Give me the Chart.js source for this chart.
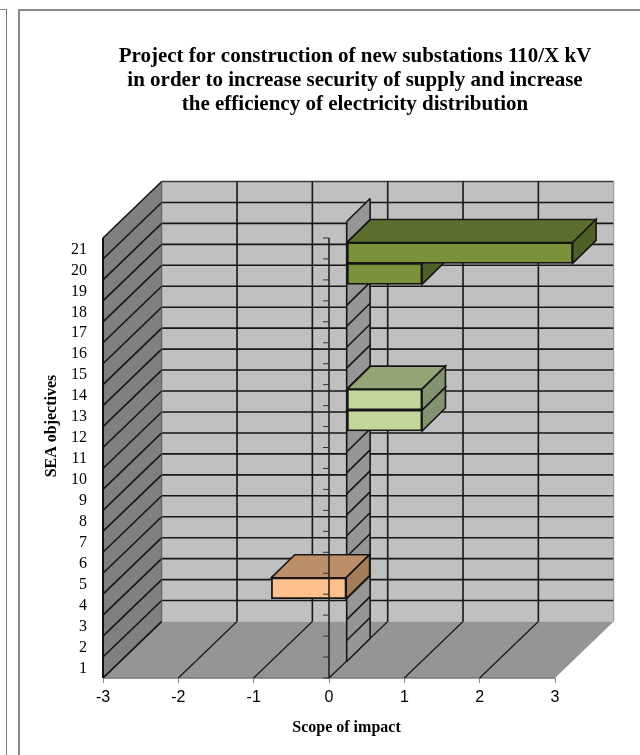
<!DOCTYPE html>
<html>
<head>
<meta charset="utf-8">
<script src="https://cdn.jsdelivr.net/npm/chart.js@4"></script>
<style>
  html, body { margin: 0; padding: 0; background: #fff; }
  canvas { display: block; }
</style>
</head>
<body>
<canvas id="chart" width="640" height="755"></canvas>
<script>
const objectives = ['1','2','3','4','5','6','7','8','9','10','11','12','13','14','15','16','17','18','19','20','21'];
const impact = [null,null,null,-1,null,null,null,null,null,null,null,1,1,null,null,null,null,null,1,3,null];
const impactTicks = [-3,-2,-1,0,1,2,3];
const titleLines = [
  'Project for construction of new substations 110/X kV',
  'in order to increase security of supply and increase',
  'the efficiency of electricity distribution'
];
const xTitle = 'Scope of impact';
const yTitle = 'SEA objectives';

// front, top, side colours of a bar, picked by sign and by which objective group
const tones = {
  negative: ['#FDC08C', '#BC8F68', '#A17D59'],
  light: ['#C3D69B', '#93A577', '#839270'],
  strong: ['#7A923A', '#5C6E2D', '#4F6026']
};
function toneOf(i) {
  if (impact[i] < 0) return tones.negative;
  return i > 15 ? tones.strong : tones.light;
}

// 3d look: how far back the wall sits, and the band in which the bars stand
const back = { x: 58.7, y: -56.5 };
const barPlane = { x: 17.7, y: -16.5 };
const barDepth = { x: 23.4, y: -23 };
const lineColor = '#161616';

function poly(ctx, pts, fill, stroke, width) {
  ctx.beginPath();
  pts.forEach((p, i) => i ? ctx.lineTo(p[0], p[1]) : ctx.moveTo(p[0], p[1]));
  ctx.closePath();
  if (fill) { ctx.fillStyle = fill; ctx.fill(); }
  if (stroke) { ctx.strokeStyle = stroke; ctx.lineWidth = width || 1.6; ctx.stroke(); }
}
function line(ctx, x1, y1, x2, y2, color, width) {
  ctx.beginPath();
  ctx.moveTo(x1, y1);
  ctx.lineTo(x2, y2);
  ctx.strokeStyle = color || lineColor;
  ctx.lineWidth = width || 1.6;
  ctx.stroke();
}
// pixel of the boundary under category k, 0 is the floor and 21 the top
function rowEdge(y, k) {
  const band = y.getPixelForTick(0) - y.getPixelForTick(1);
  return y.getPixelForTick(0) + band / 2 - band * k;
}

const scene = {
  id: 'scene',
  beforeDraw(chart) {
    const ctx = chart.ctx;
    ctx.save();
    ctx.fillStyle = '#fff';
    ctx.fillRect(0, 0, chart.width, chart.height);
    line(ctx, 19, 10, 640, 10, '#8a8a8a', 2);
    line(ctx, 19, 9, 19, 755, '#8a8a8a', 2);
    line(ctx, 0, 9.5, 7, 9.5, '#8a8a8a', 1);
    line(ctx, 6.5, 9, 6.5, 755, '#777', 1);
    ctx.restore();
  },
  beforeDatasetsDraw(chart) {
    const ctx = chart.ctx;
    const { left, right, top, bottom } = chart.chartArea;
    const x = chart.scales.x, y = chart.scales.y;
    const rows = objectives.length;
    ctx.save();

    // back wall, left wall, floor
    poly(ctx, [[left + back.x, top + back.y], [right + back.x, top + back.y], [right + back.x, bottom + back.y], [left + back.x, bottom + back.y]], '#C0C0C0');
    poly(ctx, [[left, top], [left + back.x, top + back.y], [left + back.x, bottom + back.y], [left, bottom]], '#808080');
    poly(ctx, [[left, bottom], [left + back.x, bottom + back.y], [right + back.x, bottom + back.y], [right, bottom]], '#959595');

    for (let k = 1; k <= rows; k++) {
      const p = rowEdge(y, k);
      line(ctx, left + back.x, p + back.y, right + back.x, p + back.y, k === rows ? '#3a3a3a' : lineColor);
      line(ctx, left, p, left + back.x, p + back.y);
    }
    line(ctx, left, bottom, left + back.x, bottom + back.y);
    line(ctx, right + back.x, top + back.y, right + back.x, bottom + back.y, '#8c8c8c', 1);
    line(ctx, left, bottom, right, bottom, '#777', 1.5);

    impactTicks.forEach(v => {
      const p = x.getPixelForValue(v);
      if (v > -3 && v < 3) line(ctx, p + back.x, top + back.y, p + back.x, bottom + back.y);
      if (v < 3) line(ctx, p, bottom, p + back.x, bottom + back.y, lineColor, 1.2);
    });
    line(ctx, left + back.x, top + back.y, left + back.x, bottom + back.y, '#555', 1);
    line(ctx, left, top, left, bottom, '#111', 2);

    // the wall standing on the zero line
    const z = x.getPixelForValue(0) + barPlane.x;
    const zb = z + barDepth.x;
    poly(ctx, [[z, top + barPlane.y], [zb, top + barPlane.y + barDepth.y], [zb, bottom + barPlane.y + barDepth.y], [z, bottom + barPlane.y]], '#969696');
    for (let k = 0; k <= rows; k++) {
      const p = rowEdge(y, k) + barPlane.y;
      line(ctx, z, p, zb, p + barDepth.y);
    }
    line(ctx, z, top + barPlane.y, z, bottom + barPlane.y);
    line(ctx, zb, top + barPlane.y + barDepth.y, zb, bottom + barPlane.y + barDepth.y);

    // the bars stand in their own plane, chart.js paints the fronts after this
    ctx.translate(barPlane.x, barPlane.y);
    const bars = chart.getDatasetMeta(0).data;
    impact.forEach((v, i) => {
      if (v === null) return;
      const b = bars[i];
      const x0 = Math.min(b.x, b.base), x1 = Math.max(b.x, b.base);
      const y0 = b.y - b.height / 2, y1 = b.y + b.height / 2;
      const t = toneOf(i);
      poly(ctx, [[x0, y0], [x0 + barDepth.x, y0 + barDepth.y], [x1 + barDepth.x, y0 + barDepth.y], [x1, y0]], t[1], lineColor);
      poly(ctx, [[x1, y0], [x1 + barDepth.x, y0 + barDepth.y], [x1 + barDepth.x, y1 + barDepth.y], [x1, y1]], t[2], lineColor);
    });
  },
  afterDatasetsDraw(chart) {
    const ctx = chart.ctx;
    ctx.restore();
    const { top, bottom } = chart.chartArea;
    const x = chart.scales.x, y = chart.scales.y;
    const zero = x.getPixelForValue(0);
    ctx.save();

    // value axis line with its ticks, in front of everything
    line(ctx, zero, top, zero, bottom, '#222', 1.6);
    for (let k = 0; k <= objectives.length; k++) {
      const p = rowEdge(y, k);
      line(ctx, zero - 6, p, zero, p, '#333', 1);
    }

    ctx.fillStyle = '#000';
    ctx.textAlign = 'center';
    ctx.textBaseline = 'middle';
    ctx.font = 'bold 21px "Liberation Serif"';
    titleLines.forEach((t, i) => ctx.fillText(t, 355, 56.5 + i * 24));

    ctx.font = 'bold 16px "Liberation Serif"';
    ctx.fillText(xTitle, 346.5, 728);
    ctx.translate(52, 426);
    ctx.rotate(-Math.PI / 2);
    ctx.fillText(yTitle, 0, 0);
    ctx.restore();
  }
};

new Chart(document.getElementById('chart'), {
  type: 'bar',
  data: {
    labels: objectives,
    datasets: [{
      label: yTitle,
      data: impact,
      backgroundColor: impact.map((v, i) => v === null ? 'transparent' : toneOf(i)[0]),
      borderColor: lineColor,
      borderWidth: 1.8,
      borderSkipped: false,
      barPercentage: 1,
      categoryPercentage: 1,
      clip: false
    }]
  },
  options: {
    indexAxis: 'y',
    responsive: false,
    animation: false,
    layout: { padding: { left: 63, top: 238, right: 85, bottom: 37 } },
    plugins: { legend: { display: false }, title: { display: false }, tooltip: { enabled: false } },
    scales: {
      x: {
        type: 'linear',
        min: -3,
        max: 3,
        afterFit(s) { s.height = 40; },
        grid: { drawOnChartArea: false, color: '#888', tickLength: 5 },
        border: { display: false },
        ticks: {
          stepSize: 1,
          color: '#000',
          padding: 5,
          maxRotation: 0,
          font: { family: '"Liberation Sans"', size: 16 }
        }
      },
      y: {
        type: 'category',
        reverse: true,
        afterFit(s) { s.width = 40; },
        grid: { display: false, drawTicks: false },
        border: { display: false },
        ticks: {
          autoSkip: false,
          color: '#000',
          padding: 16,
          labelOffset: 1,
          font: { family: '"Liberation Serif"', size: 16 }
        }
      }
    }
  },
  plugins: [scene]
});
</script>
</body>
</html>
